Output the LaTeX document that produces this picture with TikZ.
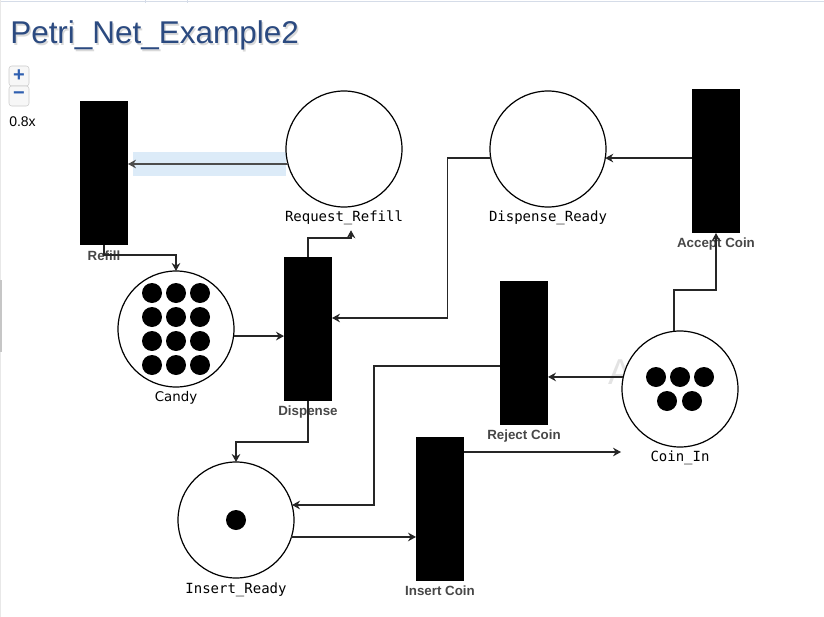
\documentclass[tikz,border=0pt]{standalone}
\usepackage{fontspec}
\setmainfont{Liberation Sans}
\newfontfamily\monofont{DejaVu Sans Mono}
\newfontfamily\dvsans{DejaVu Sans}
\usetikzlibrary{arrows.meta,calc}
\definecolor{titleblue}{HTML}{2B4A80}
\definecolor{btnblue}{HTML}{2F5FB0}
\definecolor{selblue}{HTML}{DCEBF8}
\definecolor{uiline}{HTML}{D5DCE8}
\begin{document}
\begin{tikzpicture}[x=0.75pt,y=-0.75pt,
  trans/.style={fill=black, draw=none, minimum width=36pt, minimum height=108pt, inner sep=0pt, outer sep=0pt},
  place/.style={circle, draw=black, fill=white, line width=0.9pt, minimum size=87pt, inner sep=0pt, outer sep=0pt},
  tlabel/.style={font=\bfseries\fontsize{10}{12}\selectfont, text=black!72, inner sep=0pt},
  plabel/.style={font=\monofont\fontsize{10.5}{12}\selectfont, text=black, inner sep=0pt},
  slabel/.style={font=\dvsans\fontsize{10}{12}\selectfont, text=black, inner sep=0pt},
  arc/.style={draw=black!85, line width=0.9pt, -{Stealth[length=6pt,width=6.5pt,inset=2pt]}},
  btn/.style={draw=gray!40, fill=gray!6, rounded corners=2pt, minimum size=15pt, inner sep=0pt, text=btnblue, font=\bfseries\fontsize{15}{15}\selectfont},
  token/.style={fill=black}
]
\useasboundingbox (0,0) rectangle (824,617);
\fill[white] (0,0) rectangle (824,617);
% UI frame
\draw[uiline, line width=0.9pt] (0,1.5) -- (824,1.5);
\draw[uiline, line width=0.6pt] (145,0) -- (145,3) (187,0) -- (187,3);
\draw[gray!18, line width=1pt] (0.7,0) -- (0.7,617);
\draw[gray!45, line width=1.6pt] (1,280) -- (1,352);
% title
\node[anchor=base west, inner sep=0pt, text=gray!30, font=\fontsize{23.6}{28}\selectfont] (titleshadow) at (11.5,45.5) {Petri\_Net\_Example2};
\node[anchor=base west, inner sep=0pt, text=titleblue, font=\fontsize{23.6}{28}\selectfont] (title) at (10,44) {Petri\_Net\_Example2};
% zoom controls
\node[btn] (zoomin) at (19,76) {+};
\node[btn] (zoomout) at (19,96) {−};
\node[anchor=base west, inner sep=0pt, font=\fontsize{10.5}{12}\selectfont] (zoomlvl) at (9,126) {0.8x};
% ghost letter
\node[anchor=base, inner sep=0pt, text=gray!22, font=\fontsize{27}{30}\selectfont] (ghost) at (620,384) {A};
% selection highlight
\fill[selblue] (133,152) rectangle (286,176);
% transitions
\node[trans] (Refill) at (104,173) {};
\node[trans] (Dispense) at (308,329) {};
\node[trans] (AcceptCoin) at (716,161) {};
\node[trans] (RejectCoin) at (524,353) {};
\node[trans] (InsertCoin) at (440,509) {};
\node[tlabel] (lRefill) at (104,256) {Refill};
\node[tlabel] (lDispense) at (308,412) {Dispense};
\node[tlabel] (lAcceptCoin) at (716,244) {Accept Coin};
\node[tlabel] (lRejectCoin) at (524,436) {Reject Coin};
\node[tlabel] (lInsertCoin) at (440,591) {Insert Coin};
% places
\node[place] (RequestRefill) at (344,149) {};
\node[place] (DispenseReady) at (548,149) {};
\node[place] (Candy) at (176,329) {};
\node[place] (CoinIn) at (680,389) {};
\node[place] (InsertReady) at (236,520) {};
\node[plabel] (lRequestRefill) at (344,218) {Request\_Refill};
\node[plabel] (lDispenseReady) at (548,218) {Dispense\_Ready};
\node[slabel] (lCandy) at (176,398) {Candy};
\node[plabel] (lCoinIn) at (680,458) {Coin\_In};
\node[plabel] (lInsertReady) at (236,590) {Insert\_Ready};
% tokens
\foreach \dx in {-24,0,24}{
  \foreach \dy in {-36,-12,12,36}{
    \fill[token] ($(Candy)+(\dx,\dy)$) circle (10);
  }
}
\foreach \dx in {-24,0,24}{\fill[token] ($(CoinIn)+(\dx,-12)$) circle (10);}
\foreach \dx in {-13,12}{\fill[token] ($(CoinIn)+(\dx,12)$) circle (10);}
\fill[token] (InsertReady) circle (10);
% arcs
\draw[arc, draw=black!70] (RequestRefill.195) -- (RequestRefill.195 -| Refill.east);
\draw[arc] (Refill.south) -- ++(0,10) -| (Candy.north);
\draw[arc] (Candy.-7) -- (Candy.-7 -| Dispense.west);
\draw[arc] (Dispense.north) -- ++(0,-19) -| ($(lRequestRefill.south)+(7,5)$);
\draw[arc] (DispenseReady.189) -- ++(-43,0) |- ($(Dispense.east)+(0,-11)$);
\draw[arc] (DispenseReady.-9 -| AcceptCoin.west) -- (DispenseReady.-9);
\draw[arc] ($(CoinIn.north)+(-6,0)$) -- ++(0,-41) -| (AcceptCoin.south);
\draw[arc] (CoinIn.168) -- (CoinIn.168 -| RejectCoin.east);
\draw[arc] ($(RejectCoin.west)+(0,13)$) -- ++(-126,0) |- (InsertReady.15);
\draw[arc] (Dispense.south) -- ++(0,41) -| (InsertReady.north);
\draw[arc] (InsertReady.-17) -- (InsertReady.-17 -| InsertCoin.west);
\coordinate (coinInEnd) at (621,452);
\draw[arc] ($(InsertCoin.east)+(0,-57)$) -- (coinInEnd);
\end{tikzpicture}
\end{document}
